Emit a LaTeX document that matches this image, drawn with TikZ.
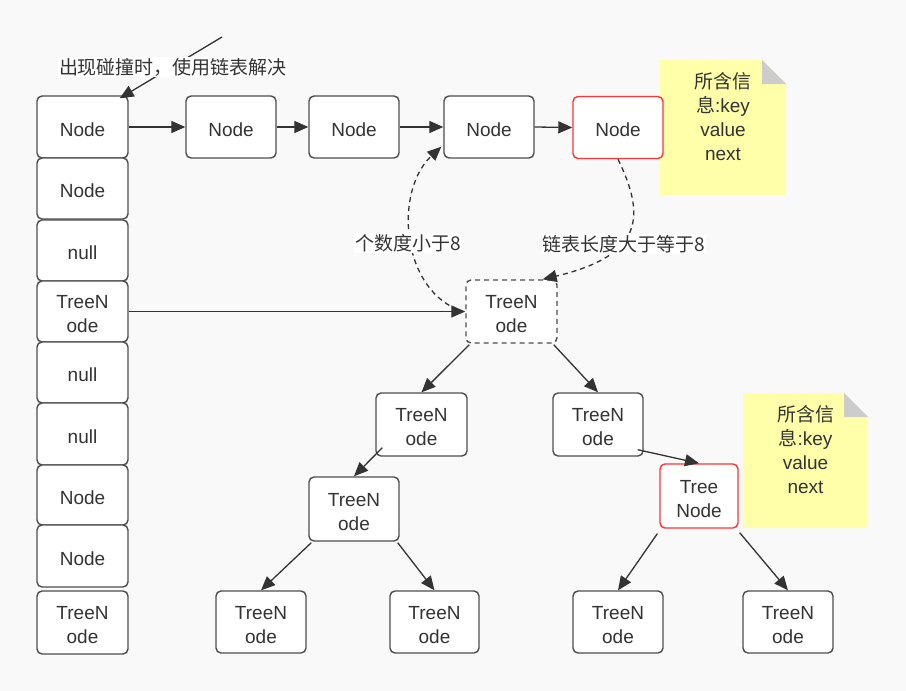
\documentclass[tikz,border=0pt]{standalone}
\usepackage{fontspec}
\setmainfont{Liberation Sans}
\newfontfamily\cjk{Noto Sans CJK SC}
\usetikzlibrary{arrows.meta,calc}
\definecolor{bg}{HTML}{F9F9F9}
\definecolor{bd}{HTML}{4D4D4D}
\definecolor{tx}{HTML}{333333}
\definecolor{rd}{HTML}{FF3333}
\definecolor{noteY}{HTML}{FFFFAA}
\definecolor{foldc}{HTML}{CCCCCC}
\newcommand\mystrut{\rule{0pt}{18.8pt}}
\begin{document}
\begin{tikzpicture}[x=1pt,y=-1pt,
  box/.style={draw=bd, line width=1.4pt, fill=white, rounded corners=5pt,
    minimum width=90pt, minimum height=62pt, inner sep=0pt, align=center,
    text=tx, font=\fontsize{19}{24}\selectfont},
  redbox/.style={box, draw=rd},
  dashbox/.style={box, dash pattern=on 5pt off 4pt},
  conn/.style={draw=tx, line width=1.3pt, -{Triangle[length=14pt,width=12pt]}},
  dconn/.style={conn, dash pattern=on 5pt off 4pt},
  lbl/.style={fill=white, inner sep=1pt, text=tx, font=\fontsize{19}{24}\selectfont},
  notetext/.style={text=tx, align=center, inner sep=0pt, font=\fontsize{19}{24}\selectfont}
]
\useasboundingbox (0,0) rectangle (906,691);
\fill[bg] (0,0) rectangle (906,691);

% notes (behind the boxes)
\fill[noteY] (660,60) -- (762,60) -- (786,84) -- (786,195) -- (660,195) -- cycle;
\fill[foldc] (762,60) -- (762,84) -- (786,84) -- cycle;
\node[notetext] (note1) at (723,117) {{\cjk 所含信}\\{\cjk 息}:key\\value\\next};
\fill[noteY] (743,393) -- (844,393) -- (868,417) -- (868,528) -- (743,528) -- cycle;
\fill[foldc] (844,393) -- (844,417) -- (868,417) -- cycle;
\node[notetext] (note2) at (805.5,450) {{\cjk 所含信}\\{\cjk 息}:key\\value\\next};

% left column
\node[box, minimum width=91pt] (c1) at (82.5,127) {\mystrut Node};
\node[box, minimum width=91pt, minimum height=61pt] (c2) at (82.5,188.5) {\mystrut Node};
\node[box, minimum width=91pt, minimum height=61pt] (c3) at (82.5,250.5) {\mystrut null};
\node[box, minimum width=91pt, minimum height=61pt] (c4) at (82.5,311.5) {\mystrut TreeN\\ode};
\node[box, minimum width=91pt, minimum height=61pt] (c5) at (82.5,372.5) {\mystrut null};
\node[box, minimum width=91pt] (c6) at (82.5,434) {\mystrut null};
\node[box, minimum width=91pt, minimum height=60pt] (c7) at (82.5,495) {\mystrut Node};
\node[box, minimum width=91pt] (c8) at (82.5,556) {\mystrut Node};
\node[box, minimum width=91pt, minimum height=63pt] (c9) at (82.5,622.5) {\mystrut TreeN\\ode};

% top row
\node[box] (n2) at (231,127) {\mystrut Node};
\node[box] (n3) at (354,127) {\mystrut Node};
\node[box] (n4) at (489,127) {\mystrut Node};
\node[redbox] (n5) at (618,127.5) {\mystrut Node};

% tree
\node[dashbox, minimum width=91pt, minimum height=63pt] (root) at (511.5,311.5) {\mystrut TreeN\\ode};
\node[box, minimum width=91pt, minimum height=63pt] (l2l) at (421.5,424.5) {\mystrut TreeN\\ode};
\node[box, minimum height=63pt] (l2r) at (598,424.5) {\mystrut TreeN\\ode};
\node[box, minimum height=64pt] (l3l) at (354,509) {\mystrut TreeN\\ode};
\node[redbox, minimum width=78pt, minimum height=64pt] (red) at (699,496) {\mystrut Tree\\Node};
\node[box] (ll) at (261,622) {\mystrut TreeN\\ode};
\node[box, minimum width=89pt] (lr) at (434.5,622) {\mystrut TreeN\\ode};
\node[box] (rb1) at (618,622) {\mystrut TreeN\\ode};
\node[box] (rb2) at (788,622) {\mystrut TreeN\\ode};

% linked list arrows
\draw[conn] (c1.east) -- (n2.west);
\draw[conn] (n2.east) -- (n3.west);
\draw[conn] (n3.east) -- (n4.west);
\draw[conn] (n4.east) -- (n5.west);
\draw[conn] (c4.east) -- (root.west);

% dashed conversions
\draw[dconn] ($(root.west)+(-8,-2)$) .. controls (400,285) and (395,190) .. ($(n4.south west)+(-2,-12)$);
\draw[dconn] (n5.south) .. controls (645,215) and (645,255) .. ($(root.north east)+(-15,0)$);
\node[lbl] (lab1) at (408,243) {\cjk 个数度小于8};
\node[lbl] (lab2) at (624,244) {\cjk 链表长度大于等于8};

% tree arrows
\draw[conn] ($(root.south west)+(4,1)$) -- (l2l.north);
\draw[conn] ($(root.south east)+(-4,1)$) -- (l2r.north);
\draw[conn] ($(l2l.south west)+(7,-9)$) -- (l3l.north);
\draw[conn] ($(l2r.south east)+(-6,-7)$) -- (red.north);
\draw[conn] ($(l3l.south west)+(3,1)$) -- (ll.north);
\draw[conn] ($(l3l.south east)+(-2,1)$) -- (lr.north);
\draw[conn] ($(red.south west)+(-2,5)$) -- (rb1.north);
\draw[conn] ($(red.south east)+(1,4)$) -- (rb2.north);

% annotation
\coordinate (ann) at (222,37);
\draw[conn] (ann) -- ($(c1.north east)+(-9,3)$);
\node[lbl] (annlbl) at (173,67) {\cjk 出现碰撞时，使用链表解决};
\end{tikzpicture}
\end{document}
